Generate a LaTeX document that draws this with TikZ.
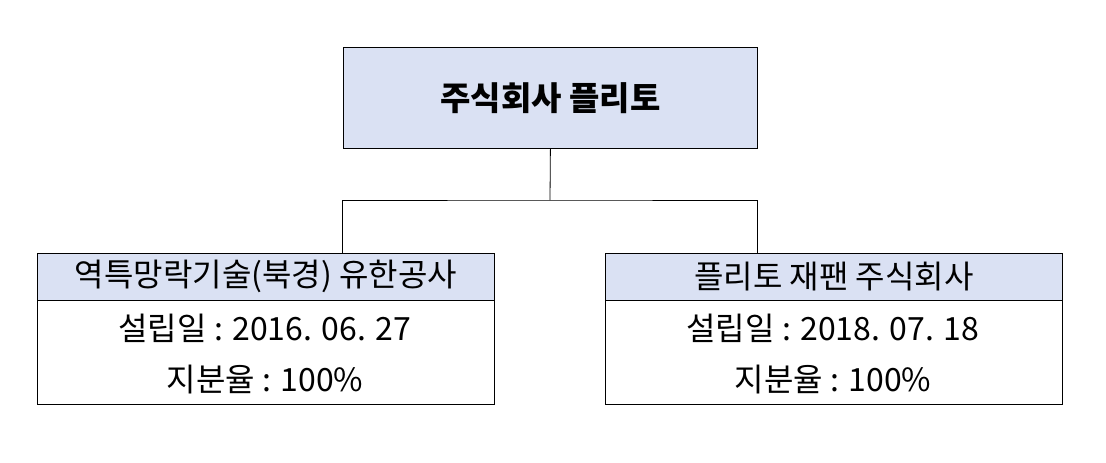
\documentclass[tikz,border=0pt]{standalone}
\usepackage{fontspec}
\setmainfont{Noto Sans CJK KR}
\begin{document}
\begin{tikzpicture}[x=1pt,y=-1pt,
  bx/.style={draw=black,line width=0.8pt,inner sep=0pt,anchor=north west},
  hd/.style={bx,fill=hdr},
  txt/.style={font=\fontsize{32}{36}\selectfont}]
\definecolor{hdr}{RGB}{218,225,243}
\useasboundingbox (0,0) rectangle (1106,463);
\node[hd,minimum width=414pt,minimum height=101pt] (top) at (343,47) {};
\node[font=\bfseries\fontsize{33}{36}\selectfont] at (top.center) {주식회사 플리토};
% left
\node[hd,minimum width=457pt,minimum height=47pt] (lh) at (37,253) {};
\node[txt] at (lh.center) {역특망락기술(북경) 유한공사};
\node[bx,minimum width=457pt,minimum height=104pt] (lb) at (37,300) {};
\node[txt] at (265,328) {설립일 : 2016. 06. 27};
\node[txt] at (265,380) {지분율 : 100\%};
% right
\node[hd,minimum width=457pt,minimum height=47pt] (rh) at (605,253) {};
\node[txt] at (rh.center) {플리토 재팬 주식회사};
\node[bx,minimum width=457pt,minimum height=104pt] (rb) at (605,300) {};
\node[txt] at (833,328) {설립일 : 2018. 07. 18};
\node[txt] at (833,380) {지분율 : 100\%};
\coordinate (j) at (550,200);
\draw[line width=0.8pt] (top.south) -- (j);
\draw[line width=0.8pt] (342,253) |- (j) -| (757,253);
\end{tikzpicture}
\end{document}
